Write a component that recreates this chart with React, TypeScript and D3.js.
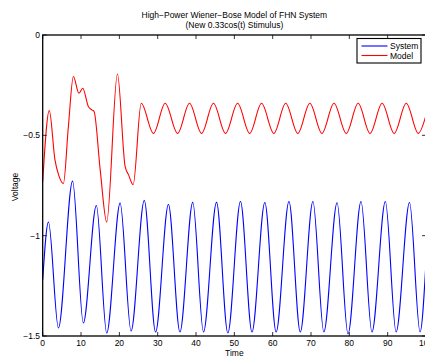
import React from "react";
import * as d3 from "d3";

const titleLines = ["High\u2212Power Wiener\u2212Bose Model of FHN System", "(New 0.33cos(t) Stimulus)"];
const xLabel = "Time";
const yLabel = "Voltage";
const seriesNames = ["System", "Model"];
const xTicks = [0, 10, 20, 30, 40, 50, 60, 70, 80, 90, 100];
const yTicks = [0, -0.5, -1, -1.5];

// System (blue) turning points
const systemT = [0, 1.5, 4.1, 7.8, 10.6, 14.0, 16.7, 20.2, 23.05, 26.5, 29.45, 32.8, 35.8, 39.15, 41.95, 45.35, 48.3, 51.6, 54.6, 57.95, 60.9, 64.25, 67.2, 70.5, 73.35, 76.8, 79.65, 83.05, 85.9, 89.4, 92.2, 95.7, 98.45, 100];
const systemV = [-1.22, -0.932, -1.46, -0.728, -1.435, -0.85, -1.485, -0.838, -1.475, -0.825, -1.48, -0.845, -1.48, -0.834, -1.48, -0.834, -1.485, -0.83, -1.48, -0.835, -1.48, -0.83, -1.48, -0.83, -1.48, -0.836, -1.49, -0.83, -1.48, -0.83, -1.48, -0.835, -1.48, -1.13];

// Model (red) turning points
const modelT = [0, 1.72, 3.2, 4.15, 5.4, 6.7, 8.0, 9.45, 10.45, 11.9, 12.8, 13.4, 15.0, 16.7, 19.5, 21.5, 22.4, 23.6, 25.7, 28.9, 31.95, 35.2, 38.3, 41.45, 44.55, 47.7, 50.85, 54.0, 57.1, 60.3, 63.4, 66.55, 69.7, 72.85, 76.0, 79.2, 82.3, 85.4, 88.55, 91.7, 94.85, 98.0, 100];
const modelV = [-0.73, -0.377, -0.622, -0.697, -0.74, -0.456, -0.207, -0.29, -0.265, -0.356, -0.373, -0.381, -0.672, -0.932, -0.194, -0.655, -0.697, -0.746, -0.34, -0.49, -0.34, -0.49, -0.34, -0.49, -0.34, -0.49, -0.34, -0.49, -0.34, -0.49, -0.34, -0.49, -0.34, -0.49, -0.34, -0.49, -0.34, -0.49, -0.34, -0.49, -0.34, -0.49, -0.40];

const W = 425;
const H = 356;
const left = 42.7;
const right = 426;
const top = 35;
const bottom = 336;
const font = "'Liberation Sans', Arial, Helvetica, sans-serif";
const fs = 8.5;

const fmt = (v: number) => (v < 0 ? "\u2212" + String(Math.abs(v)) : String(v));

export default function App() {
  const x = d3.scaleLinear().domain([0, 100]).range([left, right]);
  const y = d3.scaleLinear().domain([-1.5, 0]).range([bottom, top]);
  const line = d3
    .line<[number, number]>()
    .x((d) => x(d[0]))
    .y((d) => y(d[1]))
    .curve(d3.curveMonotoneX);
  const sys = systemT.map((t, i) => [t, systemV[i]] as [number, number]);
  const mod = modelT.map((t, i) => [t, modelV[i]] as [number, number]);
  const tl = 4;
  const midX = (left + right) / 2;

  return (
    <svg width={W} height={H} style={{ position: "absolute", left: 0, top: 0, background: "#fff" }} fontFamily={font}>
      <rect x={0} y={0} width={W} height={H} fill="#fff" />
      <path d={line(sys) || ""} fill="none" stroke="#0000ff" strokeWidth={1.1} />
      <path d={line(mod) || ""} fill="none" stroke="#ff0000" strokeWidth={1.1} />
      {/* axes box */}
      <rect x={left} y={top} width={right - left} height={bottom - top} fill="none" stroke="#000" strokeWidth={1.3} />
      {xTicks.map((t) => (
        <g key={"x" + t}>
          <line x1={x(t)} x2={x(t)} y1={bottom} y2={bottom - tl} stroke="#000" strokeWidth={0.8} />
          <line x1={x(t)} x2={x(t)} y1={top} y2={top + tl} stroke="#000" strokeWidth={0.8} />
          <text x={x(t)} y={346} fontSize={fs} textAnchor="middle" fill="#000">{fmt(t)}</text>
        </g>
      ))}
      {yTicks.map((v) => (
        <g key={"y" + v}>
          <line x1={left} x2={left + tl} y1={y(v)} y2={y(v)} stroke="#000" strokeWidth={0.8} />
          <line x1={right} x2={right - tl} y1={y(v)} y2={y(v)} stroke="#000" strokeWidth={0.8} />
          <text x={40} y={y(v) + 3} fontSize={fs} textAnchor="end" fill="#000">{fmt(v)}</text>
        </g>
      ))}
      <text x={midX} y={356} fontSize={fs} textAnchor="middle" fill="#000">{xLabel}</text>
      <text transform={`translate(18.3,187) rotate(-90)`} fontSize={fs} textAnchor="middle" fill="#000">{yLabel}</text>
      {titleLines.map((s, i) => (
        <text key={s} x={midX} y={18 + i * 10} fontSize={fs} textAnchor="middle" fill="#000">{s}</text>
      ))}
      {/* legend */}
      <rect x={357} y={38.5} width={64} height={24.5} fill="#fff" stroke="#000" strokeWidth={1.1} />
      {seriesNames.map((n, i) => (
        <g key={n}>
          <line x1={361.5} x2={387.5} y1={46 + i * 9.5} y2={46 + i * 9.5} stroke={i === 0 ? "#0000ff" : "#ff0000"} strokeWidth={1.1} />
          <text x={390} y={46 + i * 9.5 + 3} fontSize={fs} fill="#000">{n}</text>
        </g>
      ))}
    </svg>
  );
}
